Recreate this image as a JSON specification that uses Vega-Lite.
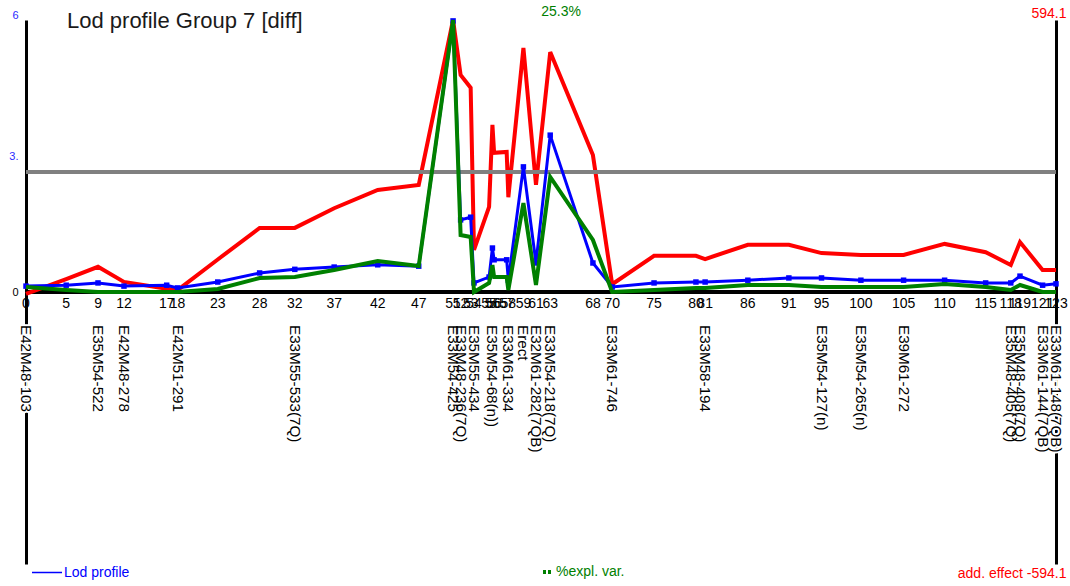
{
  "$schema": "https://vega.github.io/schema/vega-lite/v6.json",
  "autosize": "none",
  "width": 1030,
  "height": 544,
  "padding": {"left": 26, "top": 20, "right": 14, "bottom": 22},
  "background": "white",
  "title": {
    "text": "Lod profile Group 7 [diff]",
    "anchor": "start",
    "frame": "group",
    "orient": "top",
    "baseline": "alphabetic",
    "offset": 0,
    "dx": 41,
    "dy": 45,
    "font": "Liberation Sans",
    "fontSize": 22,
    "fontWeight": "normal",
    "color": "#1a1a1a"
  },
  "config": {
    "view": {"stroke": null},
    "font": "Liberation Sans",
    "axis": {"grid": false, "ticks": false, "domainColor": "#000000", "domainWidth": 3, "labelFont": "Liberation Sans"}
  },
  "data": {
    "values": [
      {"pos": 0, "lod": 0.13, "pve": 0.47, "add": -4, "marker": "E42M48-103"},
      {"pos": 4.8, "lod": 0.15, "pve": 0.19, "add": 28, "marker": ""},
      {"pos": 8.6, "lod": 0.2, "pve": 0.0, "add": 55, "marker": "E35M54-522"},
      {"pos": 11.7, "lod": 0.13, "pve": 0.0, "add": 22, "marker": "E42M48-278"},
      {"pos": 16.8, "lod": 0.15, "pve": 0.0, "add": 7, "marker": ""},
      {"pos": 18.1, "lod": 0.09, "pve": 0.0, "add": 4, "marker": "E42M51-291"},
      {"pos": 22.9, "lod": 0.22, "pve": 0.28, "add": 71, "marker": ""},
      {"pos": 27.9, "lod": 0.42, "pve": 1.3, "add": 140, "marker": ""},
      {"pos": 32.1, "lod": 0.5, "pve": 1.4, "add": 140, "marker": "E33M55-533(7Q)"},
      {"pos": 36.8, "lod": 0.55, "pve": 2.05, "add": 183, "marker": ""},
      {"pos": 42.0, "lod": 0.6, "pve": 2.88, "add": 223, "marker": ""},
      {"pos": 46.9, "lod": 0.57, "pve": 2.42, "add": 234, "marker": ""},
      {"pos": 51.0, "lod": 5.98, "pve": 25.3, "add": 594.1, "marker": "E33M54-425"},
      {"pos": 51.9, "lod": 1.59, "pve": 5.3, "add": 474, "marker": "E33M48-236(7Q)"},
      {"pos": 53.1, "lod": 1.65, "pve": 5.12, "add": 446, "marker": ""},
      {"pos": 53.5, "lod": 0.2, "pve": 0.0, "add": 92, "marker": "E35M55-434"},
      {"pos": 55.3, "lod": 0.33, "pve": 0.84, "add": 186, "marker": ""},
      {"pos": 55.7, "lod": 0.97, "pve": 2.51, "add": 365, "marker": "E35M54-68(n))"},
      {"pos": 55.9, "lod": 0.71, "pve": 1.4, "add": 304, "marker": ""},
      {"pos": 57.4, "lod": 0.71, "pve": 1.4, "add": 306, "marker": ""},
      {"pos": 57.6, "lod": 0.26, "pve": 0.19, "add": 207, "marker": "E33M61-334"},
      {"pos": 59.4, "lod": 2.76, "pve": 8.28, "add": 533, "marker": "Erect"},
      {"pos": 60.9, "lod": 0.64, "pve": 0.65, "add": 234, "marker": "E32M61-282(7QB)"},
      {"pos": 62.6, "lod": 3.46, "pve": 10.7, "add": 524, "marker": "E33M54-218(7Q)"},
      {"pos": 67.7, "lod": 0.64, "pve": 4.84, "add": 299, "marker": ""},
      {"pos": 70.0, "lod": 0.11, "pve": 0.0, "add": 17, "marker": "E33M61-746"},
      {"pos": 75.0, "lod": 0.2, "pve": 0.19, "add": 79, "marker": ""},
      {"pos": 80.0, "lod": 0.22, "pve": 0.37, "add": 79, "marker": ""},
      {"pos": 81.1, "lod": 0.22, "pve": 0.37, "add": 72, "marker": "E33M58-194"},
      {"pos": 86.2, "lod": 0.26, "pve": 0.65, "add": 103, "marker": ""},
      {"pos": 91.1, "lod": 0.31, "pve": 0.65, "add": 103, "marker": ""},
      {"pos": 95.0, "lod": 0.31, "pve": 0.47, "add": 85, "marker": "E35M54-127(n)"},
      {"pos": 99.7, "lod": 0.26, "pve": 0.47, "add": 81, "marker": "E35M54-265(n)"},
      {"pos": 104.8, "lod": 0.26, "pve": 0.47, "add": 81, "marker": "E39M61-272"},
      {"pos": 109.7, "lod": 0.26, "pve": 0.74, "add": 105, "marker": ""},
      {"pos": 114.6, "lod": 0.2, "pve": 0.47, "add": 87, "marker": ""},
      {"pos": 117.6, "lod": 0.2, "pve": 0.19, "add": 59, "marker": "E35M48-405(7Q)"},
      {"pos": 118.7, "lod": 0.35, "pve": 0.65, "add": 109, "marker": "E35M48-408(7Q)"},
      {"pos": 121.4, "lod": 0.15, "pve": 0.0, "add": 48, "marker": "E33M61-144(7QB)"},
      {"pos": 123.0, "lod": 0.18, "pve": 0.0, "add": 48, "marker": "E33M61-148(7QB)"}
    ]
  },
  "resolve": {"scale": {"y": "independent"}},
  "layer": [
    {
      "mark": {"type": "rule", "color": "#000000", "strokeWidth": 3},
      "encoding": {"y": {"datum": 0, "type": "quantitative", "scale": {"domain": [-6, 6], "nice": false}, "axis": null}}
    },
    {
      "mark": {"type": "line", "color": "#ff0000", "strokeWidth": 4},
      "encoding": {
        "x": {"field": "pos", "type": "quantitative", "scale": {"domain": [0, 123], "nice": false, "zero": false}, "axis": null},
        "y": {
          "field": "add",
          "type": "quantitative",
          "scale": {"domain": [-594.1, 594.1], "nice": false},
          "axis": {
            "orient": "right",
            "title": null,
            "values": [594.1, -594.1],
            "labelExpr": "datum.value > 0 ? '594.1' : 'add. effect -594.1'",
            "labelColor": "#ff0000",
            "labelFontSize": 14,
            "labelAlign": "right",
            "labelPadding": 10,
            "labelBaseline": {"condition": {"test": "datum.value > 0", "value": "bottom"}, "value": "top"},
            "labelOffset": {"condition": {"test": "datum.value > 0", "value": 0}, "value": 2},
            "labelFlush": false,
            "labelOverlap": false,
            "labelBound": false,
            "ticks": false
          }
        }
      }
    },
    {
      "mark": {"type": "rule", "color": "#808080", "strokeWidth": 3},
      "encoding": {"y": {"datum": 2.65, "type": "quantitative", "scale": {"domain": [-6, 6], "nice": false}, "axis": null}}
    },
    {
      "mark": {"type": "line", "strokeWidth": 3},
      "encoding": {
        "x": {"field": "pos", "type": "quantitative", "scale": {"domain": [0, 123], "nice": false, "zero": false}, "axis": null},
        "y": {
          "field": "lod",
          "type": "quantitative",
          "scale": {"domain": [-6, 6], "nice": false},
          "axis": {
            "orient": "left",
            "title": null,
            "values": [0, 3, 6],
            "labelExpr": "datum.value == 3 ? '3.' : datum.label",
            "labelFontSize": 11,
            "labelColor": {"condition": {"test": "datum.value == 0", "value": "#000000"}, "value": "#2a2aff"},
            "labelBaseline": {"condition": {"test": "datum.value == 6", "value": "bottom"}, "value": "middle"},
            "labelPadding": 8,
            "labelFlush": false,
            "labelOverlap": false,
            "ticks": false
          }
        },
        "color": {
          "datum": "Lod profile",
          "type": "nominal",
          "scale": {"domain": ["Lod profile", "%expl. var."], "range": ["#0000ff", "#008000"]},
          "legend": {
            "orient": "none",
            "legendX": 14,
            "legendY": 545,
            "direction": "horizontal",
            "title": null,
            "padding": 0,
            "symbolType": "stroke",
            "symbolSize": 900,
            "symbolStrokeWidth": 1.5,
            "labelFont": "Liberation Sans",
            "labelFontSize": 14,
            "labelOffset": 10,
            "columnPadding": 386,
            "encode": {
              "symbols": {
                "update": {
                  "strokeWidth": {"signal": "datum.value === '%expl. var.' ? 4 : 1.5"},
                  "strokeDash": {"signal": "datum.value === '%expl. var.' ? [0, 19, 3, 2, 3, 100] : [1, 0]"}
                }
              },
              "labels": {
                "update": {
                  "fill": {"signal": "datum.value === '%expl. var.' ? '#008000' : '#0000ff'"}
                }
              }
            }
          }
        }
      }
    },
    {
      "mark": {"type": "point", "shape": "square", "filled": true, "size": 30, "color": "#0000ff", "opacity": 1},
      "encoding": {
        "x": {"field": "pos", "type": "quantitative", "axis": null},
        "y": {"field": "lod", "type": "quantitative", "scale": {"domain": [-6, 6], "nice": false}, "axis": null}
      }
    },
    {
      "mark": {"type": "text", "align": "center", "baseline": "top", "dy": 5, "fontSize": 14, "font": "Liberation Sans", "color": "#000000"},
      "encoding": {
        "x": {"field": "pos", "type": "quantitative", "axis": null},
        "y": {"datum": 0, "type": "quantitative", "scale": {"domain": [-6, 6], "nice": false}, "axis": null},
        "text": {"field": "pos", "type": "quantitative", "format": ".0f"}
      }
    },
    {
      "transform": [{"filter": "datum.marker != ''"}],
      "mark": {"type": "text", "angle": 90, "align": "left", "baseline": "middle", "dx": 33, "fontSize": 15.2, "font": "Liberation Sans", "fill": "#ffffff", "stroke": "#ffffff", "strokeWidth": 4},
      "encoding": {
        "x": {"field": "pos", "type": "quantitative", "axis": null},
        "y": {"datum": 0, "type": "quantitative", "scale": {"domain": [-6, 6], "nice": false}, "axis": null},
        "text": {"field": "marker"}
      }
    },
    {
      "transform": [{"filter": "datum.marker != ''"}],
      "mark": {"type": "text", "angle": 90, "align": "left", "baseline": "middle", "dx": 33, "fontSize": 15.2, "font": "Liberation Sans", "color": "#000000"},
      "encoding": {
        "x": {"field": "pos", "type": "quantitative", "axis": null},
        "y": {"datum": 0, "type": "quantitative", "scale": {"domain": [-6, 6], "nice": false}, "axis": null},
        "text": {"field": "marker"}
      }
    },
    {
      "mark": {"type": "line", "strokeWidth": 4},
      "encoding": {
        "x": {"field": "pos", "type": "quantitative", "axis": null},
        "y": {"field": "pve", "type": "quantitative", "scale": {"domain": [-25.3, 25.3], "nice": false}, "axis": null},
        "color": {"datum": "%expl. var.", "type": "nominal"}
      }
    },
    {
      "transform": [
        {"aggregate": [{"op": "max", "field": "pve", "as": "maxpve"}]},
        {"calculate": "format(datum.maxpve, '.1f') + '%'", "as": "label"}
      ],
      "mark": {"type": "text", "color": "#008000", "fontSize": 14, "font": "Liberation Sans", "align": "center", "baseline": "middle", "dy": -8},
      "encoding": {
        "x": {"datum": 63.9, "type": "quantitative", "axis": null},
        "y": {"field": "maxpve", "type": "quantitative", "scale": {"domain": [-25.3, 25.3], "nice": false}, "axis": null},
        "text": {"field": "label"}
      }
    }
  ]
}
